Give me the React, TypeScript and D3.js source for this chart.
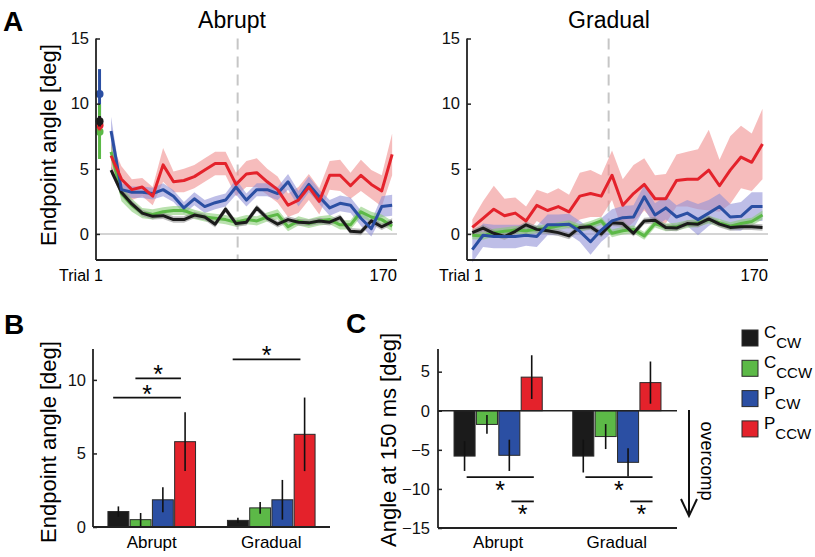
import React, { useEffect, useRef } from 'react';
import * as d3 from 'd3';

// order of conditions everywhere: C_CW (black), C_CCW (green), P_CW (blue), P_CCW (red)
const conditions = ['C_CW', 'C_CCW', 'P_CW', 'P_CCW'];
const colors = ['#1b1b1b', '#5cb947', '#2b4fa3', '#e4222b'];
const bandColors = ['#8c8c8c', '#86cc74', '#8f8fd6', '#f08c8c'];
const legendMain = ['C', 'C', 'P', 'P'];
const legendSub = ['CW', 'CCW', 'CW', 'CCW'];

// panel A - first trial of abrupt block (dot + error bar)
const firstTrialMean = [8.65, 7.85, 10.75, 8.35];
const firstTrialErr = [0.4, 2.1, 1.9, 0.4];

// panel A - abrupt, binned means and s.e.
const abruptBlack = [4.9, 3.2, 2.3, 1.6, 1.35, 1.4, 1.1, 1.1, 1.45, 1.3, 0.75, 1.9, 0.8, 0.9, 2.0, 1.2, 0.75, 1.1, 0.9, 0.85, 1.0, 0.9, 1.25, 0.2, 0.15, 1.0, 0.55, 0.95];
const abruptGreen = [6.3, 3.1, 2.2, 1.6, 1.5, 1.7, 1.8, 1.8, 1.5, 1.3, 1.2, 1.1, 0.9, 1.1, 1.0, 1.3, 1.5, 0.55, 1.0, 0.8, 1.0, 1.1, 0.7, 0.7, 1.7, 1.3, 1.1, 0.6];
const abruptBlue = [7.9, 3.4, 3.2, 3.2, 3.1, 3.4, 2.9, 2.0, 2.7, 2.1, 2.4, 2.6, 3.6, 2.6, 3.4, 3.4, 3.1, 4.0, 2.7, 3.8, 2.85, 2.0, 2.35, 2.2, 1.2, 0.4, 2.1, 2.2];
const abruptRed = [6.0, 4.2, 3.4, 3.6, 2.9, 5.3, 4.0, 4.1, 4.4, 4.9, 5.4, 5.4, 3.8, 4.6, 4.7, 4.0, 3.4, 2.2, 2.6, 3.6, 2.5, 4.5, 4.5, 3.7, 4.5, 3.8, 3.3, 6.1];
const abruptBlackSe = [0.3, 0.3, 0.25, 0.25, 0.25, 0.25, 0.25, 0.25, 0.25, 0.25, 0.25, 0.25, 0.25, 0.25, 0.25, 0.25, 0.25, 0.25, 0.25, 0.25, 0.25, 0.25, 0.25, 0.25, 0.25, 0.25, 0.25, 0.25];
const abruptGreenSe = [0.6, 0.6, 0.5, 0.4, 0.4, 0.35, 0.35, 0.35, 0.35, 0.35, 0.35, 0.35, 0.35, 0.35, 0.35, 0.35, 0.4, 0.35, 0.35, 0.35, 0.35, 0.35, 0.35, 0.35, 0.4, 0.4, 0.4, 0.4];
const abruptBlueSe = [1.1, 0.5, 0.45, 0.45, 0.45, 0.5, 0.45, 0.45, 0.5, 0.5, 0.5, 0.5, 0.6, 0.5, 0.5, 0.5, 0.5, 0.6, 0.6, 0.6, 0.55, 0.6, 0.6, 0.6, 0.6, 0.6, 0.8, 0.8];
const abruptRedSe = [1.0, 1.0, 0.8, 0.7, 0.7, 1.3, 0.8, 0.9, 0.9, 0.9, 0.9, 0.9, 0.9, 1.0, 1.1, 1.0, 1.0, 0.9, 1.0, 1.0, 1.0, 1.1, 1.2, 1.0, 1.2, 1.1, 1.2, 1.6];

// panel A - gradual
const gradualBlack = [0.1, 0.45, 0.05, -0.2, 0.2, 0.7, 0.35, 0.25, 0.1, -0.15, 0.5, 0.55, 0.0, 0.85, 0.8, 0.05, 1.0, 1.05, 0.5, 0.45, 0.8, 0.75, 1.15, 0.75, 0.5, 0.55, 0.55, 0.5];
const gradualGreen = [-0.1, -0.15, 0.1, 0.2, 0.3, 0.25, 0.35, 0.45, 0.6, 0.75, 0.45, 0.7, 1.0, 0.05, 0.25, 0.35, -0.15, 0.8, 0.5, 0.55, 0.75, 0.85, 1.1, 0.85, 0.6, 0.8, 0.95, 1.45];
const gradualBlue = [-1.2, -0.1, -0.2, -0.2, -0.2, -0.1, -0.2, 0.7, 0.7, 0.75, 0.2, -0.6, 0.3, 1.0, 1.25, 1.3, 2.85, 1.45, 2.0, 1.3, 1.6, 1.1, 1.6, 2.1, 1.3, 1.35, 2.1, 2.1];
const gradualRed = [0.5, 1.2, 1.9, 1.4, 1.6, 1.0, 2.2, 1.8, 2.1, 1.7, 2.9, 3.1, 2.9, 4.5, 2.2, 3.1, 3.8, 2.7, 2.7, 4.1, 4.2, 4.2, 4.9, 3.7, 4.9, 5.9, 5.5, 6.9];
const gradualBlackSe = [0.25, 0.25, 0.25, 0.25, 0.25, 0.25, 0.25, 0.25, 0.25, 0.25, 0.25, 0.25, 0.25, 0.25, 0.25, 0.25, 0.25, 0.25, 0.25, 0.25, 0.25, 0.25, 0.25, 0.25, 0.25, 0.25, 0.25, 0.25];
const gradualGreenSe = [0.3, 0.3, 0.3, 0.3, 0.3, 0.3, 0.3, 0.3, 0.3, 0.3, 0.3, 0.3, 0.3, 0.3, 0.3, 0.3, 0.3, 0.3, 0.3, 0.3, 0.3, 0.3, 0.3, 0.3, 0.3, 0.3, 0.3, 0.35];
const gradualBlueSe = [1.0, 0.9, 0.9, 0.9, 0.9, 0.8, 0.8, 0.8, 0.8, 0.8, 0.8, 1.0, 0.9, 0.9, 0.9, 0.9, 0.9, 0.9, 0.9, 0.9, 1.0, 1.2, 1.0, 1.0, 1.0, 1.1, 1.1, 1.1];
const gradualRedSe = [0.6, 1.3, 1.8, 1.3, 1.2, 1.1, 1.2, 1.3, 1.4, 1.3, 1.8, 1.8, 1.6, 1.9, 2.0, 2.2, 2.0, 1.8, 1.9, 2.0, 2.1, 2.3, 3.1, 2.0, 2.6, 2.4, 2.2, 2.7];

// panel B - endpoint angle
const groups = ['Abrupt', 'Gradual'];
const endpointAbrupt = [1.05, 0.5, 1.85, 5.8];
const endpointAbruptErr = [0.35, 0.45, 0.85, 2.0];
const endpointGradual = [0.45, 1.3, 1.85, 6.3];
const endpointGradualErr = [0.18, 0.4, 1.35, 2.5];

// panel C - angle at 150 ms
const angleAbrupt = [-5.8, -1.75, -5.7, 4.3];
const angleAbruptErr = [1.9, 1.2, 2.0, 2.8];
const angleGradual = [-5.8, -3.3, -6.6, 3.6];
const angleGradualErr = [2.1, 1.6, 1.8, 2.7];

// significance bars: group, from-bar, to-bar, height
const sigB = [
  { group: 'Abrupt', from: 0, to: 3, y: 8.8 },
  { group: 'Abrupt', from: 1, to: 3, y: 10.1 },
  { group: 'Gradual', from: 0, to: 3, y: 11.4 },
];
const sigC = [
  { group: 'Abrupt', from: 0, to: 3, y: -8.5 },
  { group: 'Abrupt', from: 2, to: 3, y: -11.6 },
  { group: 'Gradual', from: 0, to: 3, y: -8.5 },
  { group: 'Gradual', from: 2, to: 3, y: -11.6 },
];

const FONT = '"Liberation Sans", Arial, Helvetica, sans-serif';

const App = () => {
  const svgRef = useRef(null);

  useEffect(() => {
    const svg = d3.select(svgRef.current);
    svg.selectAll('*').remove();
    svg.attr('font-family', FONT);

    const styleAxis = (g, size) => {
      g.select('.domain').remove();
      g.selectAll('line').attr('stroke', '#222').attr('stroke-width', 1.5);
      g.selectAll('text').attr('font-size', size).attr('font-family', FONT).attr('fill', '#111');
    };

    // ---------- panel A ----------
    const yA = d3.scaleLinear().domain([-2, 15]).range([260, 38.5]);
    const abruptTrials = d3.range(28).map(i => 8.5 + i * 5.88);
    const gradualTrials = d3.range(28).map(i => 3 + i * 6.07);

    const panels = [
      {
        title: 'Abrupt', range: [96, 397], titleX: 232, trialX: 81, trials: abruptTrials, first: true,
        means: [abruptBlack, abruptGreen, abruptBlue, abruptRed],
        ses: [abruptBlackSe, abruptGreenSe, abruptBlueSe, abruptRedSe],
      },
      {
        title: 'Gradual', range: [467, 768], titleX: 609, trialX: 461, trials: gradualTrials, first: false,
        means: [gradualBlack, gradualGreen, gradualBlue, gradualRed],
        ses: [gradualBlackSe, gradualGreenSe, gradualBlueSe, gradualRedSe],
      },
    ];

    panels.forEach(p => {
      const x = d3.scaleLinear().domain([0, 170]).range(p.range);
      const g = svg.append('g');

      g.append('line')
        .attr('x1', x(0)).attr('x2', x(170))
        .attr('y1', yA(0)).attr('y2', yA(0))
        .attr('stroke', '#c6c6c6').attr('stroke-width', 1.5);

      g.append('line')
        .attr('x1', x(80)).attr('x2', x(80))
        .attr('y1', yA(15)).attr('y2', yA(-2))
        .attr('stroke', '#c6c6c6').attr('stroke-width', 2)
        .attr('stroke-dasharray', '11,7');

      const rows = p.means.map((m, k) => m.map((v, i) => ({ t: p.trials[i], m: v, s: p.ses[k][i] })));

      const area = d3.area()
        .x(d => x(d.t))
        .y0(d => yA(d.m - d.s))
        .y1(d => yA(d.m + d.s));
      const line = d3.line()
        .x(d => x(d.t))
        .y(d => yA(d.m));

      [3, 2, 1, 0].forEach(k => {
        g.append('path')
          .attr('d', area(rows[k]))
          .attr('fill', bandColors[k])
          .attr('fill-opacity', 0.58);
      });
      [1, 0, 2, 3].forEach(k => {
        g.append('path')
          .attr('d', line(rows[k]))
          .attr('fill', 'none')
          .attr('stroke', colors[k])
          .attr('stroke-width', 3)
          .attr('stroke-linejoin', 'round');
      });

      if (p.first) {
        [2, 1, 3, 0].forEach(k => {
          g.append('line')
            .attr('x1', x(2)).attr('x2', x(2))
            .attr('y1', yA(firstTrialMean[k] - firstTrialErr[k]))
            .attr('y2', yA(firstTrialMean[k] + firstTrialErr[k]))
            .attr('stroke', colors[k]).attr('stroke-width', 3);
          g.append('circle')
            .attr('cx', x(2)).attr('cy', yA(firstTrialMean[k]))
            .attr('r', 4).attr('fill', colors[k]);
        });
      }

      // axes
      g.append('line')
        .attr('x1', p.range[0]).attr('x2', p.range[0])
        .attr('y1', yA(15)).attr('y2', yA(-2))
        .attr('stroke', '#222').attr('stroke-width', 1.8);
      g.append('line')
        .attr('x1', p.range[0]).attr('x2', p.range[1])
        .attr('y1', yA(-2)).attr('y2', yA(-2))
        .attr('stroke', '#222').attr('stroke-width', 1.8);
      g.append('g')
        .attr('transform', `translate(${p.range[0]},0)`)
        .call(d3.axisLeft(yA).tickValues([0, 5, 10, 15]).tickSize(-4).tickPadding(7))
        .call(a => styleAxis(a, 16.5));

      g.append('text')
        .attr('x', p.trialX).attr('y', 281)
        .attr('text-anchor', 'middle').attr('font-size', 16)
        .text('Trial 1');
      g.append('text')
        .attr('x', p.range[1]).attr('y', 281)
        .attr('text-anchor', 'end').attr('font-size', 16.5)
        .text('170');
      g.append('text')
        .attr('x', p.titleX).attr('y', 28)
        .attr('text-anchor', 'middle').attr('font-size', 23)
        .text(p.title);
    });

    svg.append('text')
      .attr('transform', 'translate(56,145) rotate(-90)')
      .attr('text-anchor', 'middle').attr('font-size', 22)
      .text('Endpoint angle [deg]');

    // ---------- bar panels ----------
    const drawBars = (cfg) => {
      const g = svg.append('g');
      const x0 = d3.scaleBand().domain(groups).range(cfg.xRange)
        .paddingInner(cfg.padInner).paddingOuter(cfg.padOuter);
      const x1 = d3.scaleBand().domain(conditions).range([0, x0.bandwidth()]).paddingInner(0.06);
      const y = d3.scaleLinear().domain(cfg.yDomain).range(cfg.yRange);

      const values = [cfg.abrupt, cfg.gradual];
      const errs = [cfg.abruptErr, cfg.gradualErr];

      groups.forEach((grp, gi) => {
        const gg = g.append('g').attr('transform', `translate(${x0(grp)},0)`);
        conditions.forEach((c, k) => {
          const v = values[gi][k];
          gg.append('rect')
            .attr('x', x1(c)).attr('width', x1.bandwidth())
            .attr('y', y(Math.max(0, v)))
            .attr('height', Math.abs(y(v) - y(0)))
            .attr('fill', colors[k])
            .attr('stroke', '#2a2a2a').attr('stroke-width', 1);
        });
        conditions.forEach((c, k) => {
          const v = values[gi][k];
          const e = errs[gi][k];
          gg.append('line')
            .attr('x1', x1(c) + x1.bandwidth() / 2).attr('x2', x1(c) + x1.bandwidth() / 2)
            .attr('y1', y(v - e)).attr('y2', y(v + e))
            .attr('stroke', '#111').attr('stroke-width', 1.6);
        });
        g.append('text')
          .attr('x', x0(grp) + x0.bandwidth() / 2).attr('y', 548)
          .attr('text-anchor', 'middle').attr('font-size', 17)
          .text(grp);
      });

      if (cfg.zeroLine) {
        g.append('line')
          .attr('x1', cfg.xRange[0]).attr('x2', cfg.xRange[1])
          .attr('y1', y(0)).attr('y2', y(0))
          .attr('stroke', '#222').attr('stroke-width', 1.5);
      }

      // significance
      cfg.sig.forEach(s => {
        const xa = x0(s.group) + x1(conditions[s.from]) + x1.bandwidth() * cfg.sigStart;
        const xb = x0(s.group) + x1(conditions[s.to]) + x1.bandwidth() * cfg.sigEnd;
        g.append('line')
          .attr('x1', xa).attr('x2', xb)
          .attr('y1', y(s.y)).attr('y2', y(s.y))
          .attr('stroke', '#111').attr('stroke-width', 1.8);
        g.append('text')
          .attr('x', (xa + xb) / 2).attr('y', y(s.y) + cfg.starDy)
          .attr('text-anchor', 'middle').attr('font-size', 25)
          .text('*');
      });

      // axes
      g.append('line')
        .attr('x1', cfg.xRange[0]).attr('x2', cfg.xRange[0])
        .attr('y1', cfg.yRange[0]).attr('y2', cfg.yRange[1])
        .attr('stroke', '#222').attr('stroke-width', 1.8);
      g.append('line')
        .attr('x1', cfg.xRange[0]).attr('x2', cfg.xRange[1])
        .attr('y1', cfg.yRange[0]).attr('y2', cfg.yRange[0])
        .attr('stroke', '#222').attr('stroke-width', 1.8);
      g.append('g')
        .attr('transform', `translate(${cfg.xRange[0]},0)`)
        .call(d3.axisLeft(y).tickValues(cfg.ticks).tickSize(-4).tickPadding(cfg.tickPad))
        .call(a => styleAxis(a, 16.5));

      svg.append('text')
        .attr('transform', `translate(${cfg.labelX},${cfg.labelY}) rotate(-90)`)
        .attr('text-anchor', 'middle').attr('font-size', 22)
        .text(cfg.label);
    };

    drawBars({
      xRange: [93, 330], padInner: 0.267, padOuter: 0.125,
      yDomain: [0, 12.1], yRange: [527, 349], ticks: [0, 5, 10], tickPad: 7,
      abrupt: endpointAbrupt, abruptErr: endpointAbruptErr,
      gradual: endpointGradual, gradualErr: endpointGradualErr,
      sig: sigB, sigStart: 0.25, sigEnd: 0.3, starDy: 5, zeroLine: false,
      label: 'Endpoint angle [deg]', labelX: 56, labelY: 442,
    });

    drawBars({
      xRange: [438, 677], padInner: 0.257, padOuter: 0.135,
      yDomain: [-15, 7.9], yRange: [528, 349], ticks: [-15, -10, -5, 0, 5], tickPad: 8,
      abrupt: angleAbrupt, abruptErr: angleAbruptErr,
      gradual: angleGradual, gradualErr: angleGradualErr,
      sig: sigC, sigStart: 0.6, sigEnd: 0.6, starDy: 22, zeroLine: true,
      label: 'Angle at 150 ms [deg]', labelX: 396, labelY: 440,
    });

    // overcomp arrow
    const arrow = svg.append('g').attr('stroke', '#111').attr('stroke-width', 2).attr('fill', 'none');
    arrow.append('line').attr('x1', 689).attr('x2', 689).attr('y1', 410).attr('y2', 515);
    arrow.append('path').attr('d', 'M681,499 L689,516 L697,499');
    svg.append('text')
      .attr('transform', 'translate(701,461) rotate(90)')
      .attr('text-anchor', 'middle').attr('font-size', 18)
      .text('overcomp');

    // legend
    const legend = svg.append('g')
      .selectAll('g')
      .data(conditions)
      .enter().append('g')
      .attr('transform', (d, i) => `translate(742,${330 + i * 30.3})`);
    legend.append('rect')
      .attr('width', 16).attr('height', 16)
      .attr('fill', (d, i) => colors[i])
      .attr('stroke', '#2a2a2a').attr('stroke-width', 1);
    const lt = legend.append('text')
      .attr('x', 22).attr('y', 8).attr('font-size', 17);
    lt.append('tspan').text((d, i) => legendMain[i]);
    lt.append('tspan').attr('dy', 10).attr('font-size', 15).text((d, i) => legendSub[i]);

    // panel letters
    [['A', 3, 31], ['B', 4, 334], ['C', 346, 333]].forEach(([t, lx, ly]) => {
      svg.append('text')
        .attr('x', lx).attr('y', ly)
        .attr('font-size', 28).attr('font-weight', 'bold')
        .text(t);
    });
  }, []);

  return (
    <div style={{ position: 'absolute', left: 0, top: 0 }}>
      <svg ref={svgRef} width={815} height={557} style={{ display: 'block', background: '#fff' }} />
    </div>
  );
};

export default App;
